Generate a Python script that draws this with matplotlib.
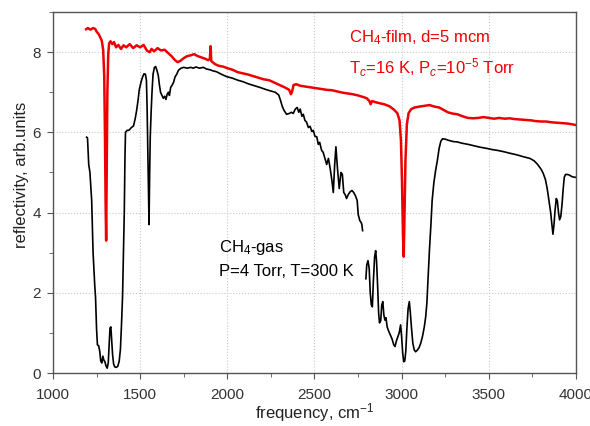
import matplotlib
matplotlib.use("Agg")
import matplotlib.pyplot as plt
from matplotlib.ticker import MultipleLocator

plt.rcParams['font.family'] = ['Liberation Sans', 'DejaVu Sans']
plt.rcParams['mathtext.fontset'] = 'custom'
plt.rcParams['mathtext.rm'] = 'Liberation Sans'
plt.rcParams['mathtext.it'] = 'Liberation Sans:italic'

# CH4 film (red)
film_freq = [1190, 1200, 1215, 1230, 1242, 1252, 1262, 1272, 1280, 1288, 1294, 1298, 1302, 1305,
             1308, 1312, 1317, 1322, 1330, 1340, 1350, 1362, 1375, 1390, 1405, 1420, 1440, 1460,
             1480, 1500, 1520, 1540, 1555, 1565, 1580, 1600, 1620, 1640, 1660, 1680, 1700, 1715,
             1730, 1750, 1770, 1790, 1810, 1830, 1850, 1870, 1890, 1900, 1904, 1908, 1915, 1930,
             1950, 1975, 2000, 2030, 2060, 2090, 2120, 2150, 2180, 2210, 2240, 2270, 2300, 2330,
             2355, 2365, 2372, 2380, 2395, 2420, 2450, 2480, 2510, 2540, 2570, 2600, 2630, 2660,
             2690, 2720, 2750, 2780, 2800, 2815, 2822, 2830, 2860, 2900, 2930, 2955, 2975, 2988,
             2996, 3002, 3008, 3012, 3016, 3022, 3030, 3040, 3055, 3075, 3100, 3130, 3160, 3190,
             3215, 3240, 3265, 3290, 3320, 3350, 3380, 3410, 3440, 3470, 3500, 3530, 3560, 3590,
             3620, 3650, 3680, 3710, 3740, 3770, 3800, 3830, 3860, 3890, 3920, 3950, 3980, 4000]
film_refl = [8.57, 8.60, 8.56, 8.60, 8.58, 8.50, 8.45, 8.36, 8.28, 8.05, 7.4, 6.0, 4.2, 3.3,
             4.8, 7.0, 7.95, 8.22, 8.27, 8.20, 8.25, 8.12, 8.18, 8.08, 8.17, 8.12, 8.20, 8.10,
             8.17, 8.12, 8.18, 8.03, 8.00, 8.08, 8.02, 8.10, 8.04, 8.06, 7.98, 7.90, 7.80, 7.75,
             7.78, 7.85, 7.90, 7.92, 7.95, 7.90, 7.87, 7.84, 7.80, 7.83, 8.15, 7.78, 7.75, 7.70,
             7.66, 7.64, 7.60, 7.56, 7.50, 7.47, 7.44, 7.40, 7.36, 7.32, 7.30, 7.24, 7.18, 7.12,
             7.06, 6.95, 7.02, 7.18, 7.20, 7.16, 7.14, 7.12, 7.10, 7.08, 7.06, 7.05, 7.02, 6.99,
             6.97, 6.95, 6.92, 6.88, 6.85, 6.78, 6.70, 6.78, 6.74, 6.70, 6.65, 6.57, 6.48, 6.30,
             5.8, 4.8, 3.4, 2.9, 3.8, 5.3, 6.2, 6.48, 6.58, 6.62, 6.64, 6.66, 6.68, 6.64,
             6.62, 6.56, 6.50, 6.47, 6.45, 6.40, 6.36, 6.35, 6.36, 6.38, 6.36, 6.34, 6.36, 6.34,
             6.35, 6.33, 6.32, 6.31, 6.30, 6.28, 6.27, 6.27, 6.25, 6.24, 6.23, 6.22, 6.20, 6.18]

# CH4 gas (black), two pieces with a gap near 2785
gas_freq_a = [1193, 1198, 1205, 1212, 1222, 1230, 1236, 1240, 1244, 1250, 1255, 1262, 1268, 1274,
              1280, 1286, 1292, 1298, 1304, 1311, 1317, 1322, 1327, 1332, 1337, 1342, 1348, 1355,
              1364, 1372, 1380, 1387, 1393, 1399, 1404, 1409, 1413, 1416, 1425, 1435, 1450, 1462,
              1472, 1480, 1488, 1495, 1505, 1514, 1522, 1530, 1536, 1540, 1544, 1548, 1551, 1554,
              1558, 1563, 1568, 1574, 1582, 1589, 1596, 1604, 1610, 1617, 1625, 1633, 1641, 1648,
              1655, 1662, 1668, 1675, 1684, 1692, 1700, 1710, 1720, 1735, 1750, 1770, 1790, 1805,
              1820, 1840, 1862, 1880, 1901, 1920, 1939, 1965, 1996, 2030, 2060, 2092, 2120, 2150,
              2187, 2220, 2250, 2275, 2295, 2305, 2315, 2325, 2340, 2355, 2368, 2378, 2390, 2401,
              2410, 2418, 2428, 2436, 2445, 2455, 2465, 2475, 2485, 2493, 2503, 2513, 2522, 2530,
              2541, 2550, 2560, 2570, 2580, 2590, 2600, 2608, 2616, 2623, 2632, 2642, 2652, 2660,
              2668, 2676, 2684, 2694, 2705, 2715, 2725, 2735, 2745, 2751, 2760, 2768, 2772, 2776]
gas_refl_a = [5.88, 5.86, 5.2, 5.0, 4.3, 3.0, 2.5, 2.15, 1.9, 1.1, 0.7, 0.68, 0.55, 0.3,
              0.25, 0.42, 0.32, 0.28, 0.18, 0.12, 0.25, 0.7, 1.12, 1.15, 0.8, 0.45, 0.22, 0.15,
              0.14, 0.17, 0.3, 0.6, 1.2, 1.9, 3.0, 4.0, 5.4, 6.0, 6.05, 6.05, 6.12, 6.16,
              6.35, 6.55, 6.8, 7.06, 7.25, 7.38, 7.46, 7.45, 7.3, 6.6, 5.6, 4.6, 3.7, 4.8,
              5.9, 6.5, 7.0, 7.45, 7.62, 7.64, 7.55, 7.42, 7.2, 7.0, 6.92, 6.85, 6.9, 6.82,
              6.95, 7.0, 6.92, 7.12, 7.18, 7.25, 7.38, 7.45, 7.55, 7.6, 7.62, 7.6, 7.62, 7.60,
              7.63, 7.6, 7.62, 7.58, 7.56, 7.53, 7.51, 7.45, 7.39, 7.35, 7.3, 7.26, 7.21, 7.17,
              7.12, 7.07, 7.03, 7.0, 6.93, 6.8, 6.65, 6.55, 6.45, 6.47, 6.5, 6.47, 6.58, 6.62,
              6.5, 6.58, 6.4, 6.45, 6.3, 6.25, 6.12, 6.15, 6.02, 6.05, 5.9, 5.89, 5.7, 5.75,
              5.55, 5.5, 5.35, 5.2, 5.35, 5.1, 4.8, 4.5, 5.2, 5.64, 5.1, 4.6, 5.0, 4.95,
              4.5, 4.45, 4.35, 4.45, 4.52, 4.55, 4.5, 4.42, 4.3, 3.95, 3.8, 3.75, 3.7, 3.55]
gas_freq_b = [2795, 2800, 2807, 2814, 2820, 2826, 2832, 2838, 2845, 2851, 2856, 2862, 2868, 2873,
              2880, 2886, 2892, 2898, 2904, 2910, 2917, 2925, 2935, 2945, 2955, 2962, 2970, 2978,
              2986, 2994, 3000, 3006, 3012, 3018, 3024, 3030, 3037, 3044, 3050, 3057, 3064, 3072,
              3080, 3090, 3100, 3110, 3120, 3130, 3138, 3145, 3152, 3160, 3168, 3175, 3185, 3195,
              3205, 3215, 3225, 3235, 3250, 3270, 3296, 3320, 3345, 3370, 3392, 3420, 3450, 3488,
              3520, 3550, 3583, 3620, 3660, 3700, 3736, 3760, 3780, 3800, 3812, 3825, 3835, 3845,
              3855, 3862, 3868, 3874, 3880, 3887, 3893, 3900, 3906, 3913, 3920, 3927, 3933, 3940,
              3950, 3960, 3975, 3990, 4000]
gas_refl_b = [2.35, 2.7, 2.8, 2.6, 2.0, 1.7, 1.65, 2.3, 2.9, 3.05, 2.8, 2.2, 1.5, 1.25,
              1.3, 1.7, 1.78, 1.45, 1.32, 1.38, 1.15, 1.05, 0.95, 0.85, 0.7, 0.66, 0.8, 0.9,
              1.0, 1.2, 0.9, 0.5, 0.28, 0.3, 0.55, 1.1, 1.6, 1.78, 1.5, 1.1, 0.75, 0.58,
              0.53, 0.57, 0.63, 0.75, 0.92, 1.15, 1.4, 1.75, 2.4, 3.1, 3.7, 4.3, 4.75, 5.05,
              5.3, 5.6, 5.78, 5.84, 5.83, 5.8, 5.77, 5.76, 5.73, 5.71, 5.69, 5.66, 5.63, 5.6,
              5.57, 5.55, 5.52, 5.48, 5.44, 5.39, 5.35, 5.29, 5.2, 5.08, 4.98, 4.82, 4.6, 4.3,
              4.0, 3.7, 3.46, 3.7, 4.05, 4.35, 4.3, 4.0, 3.82, 3.9, 4.2, 4.6, 4.88, 4.95,
              4.95, 4.94, 4.9, 4.88, 4.88]

fig = plt.figure(figsize=(5.9, 4.26), dpi=100)
ax = fig.add_axes([0.0898, 0.1244, 0.8864, 0.8474])

ax.plot(gas_freq_a, gas_refl_a, color='black', lw=1.2)
ax.plot(gas_freq_b, gas_refl_b, color='black', lw=1.2)
ax.plot(film_freq, film_refl, color='#ee0000', lw=1.8)

ax.set_xlim(1000, 4000)
ax.set_ylim(0, 9)
ax.xaxis.set_major_locator(MultipleLocator(500))
ax.xaxis.set_minor_locator(MultipleLocator(250))
ax.yaxis.set_major_locator(MultipleLocator(2))
ax.yaxis.set_minor_locator(MultipleLocator(1))
ax.grid(True, which='major', color='#c8c8c8', linestyle=':', lw=0.8)

for s in ax.spines.values():
    s.set_color('#555555')
    s.set_linewidth(1.0)
ax.tick_params(which='both', direction='out', colors='#555555', labelcolor='#333333',
               labelsize=11, top=False, right=False)
ax.tick_params(which='major', length=4)
ax.tick_params(which='minor', length=3)
ax.tick_params(axis='x', which='major', pad=6.5)
ax.tick_params(axis='y', which='major', pad=4.5)

ax.set_xlabel('frequency, cm$^{-1}$', fontsize=12, color='#222222', labelpad=0)
ax.set_ylabel('reflectivity, arb.units', fontsize=12, color='#222222')
ax.yaxis.set_label_coords(-0.046, 0.55)

ax.text(2700, 8.35, 'CH$_4$-film, d=5 mcm', color='#ee0000', fontsize=12, va='center')
ax.text(2700, 7.6, 'T$_c$=16 K, P$_c$=10$^{-5}$ Torr', color='#ee0000', fontsize=12, va='center')
ax.text(1955, 3.14, 'CH$_4$-gas', color='black', fontsize=12, va='center')
ax.text(1955, 2.52, 'P=4 Torr, T=300 K', color='black', fontsize=12, va='center')

fig.savefig('out.png', dpi=100)
